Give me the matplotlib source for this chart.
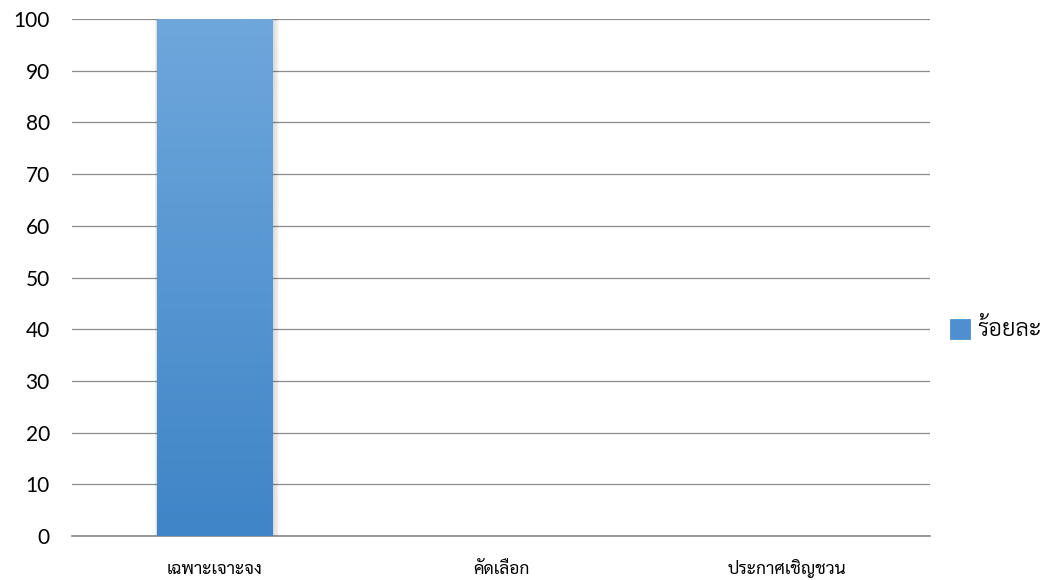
import matplotlib
matplotlib.use("Agg")
import matplotlib.pyplot as plt
import numpy as np
from matplotlib.patches import Rectangle
from matplotlib.colors import LinearSegmentedColormap

categories = ["เฉพาะเจาะจง", "คัดเลือก", "ประกาศเชิญชวน"]
values = [100, 0, 0]
series_name = "ร้อยละ"
yticks = [0, 10, 20, 30, 40, 50, 60, 70, 80, 90, 100]

fig = plt.figure(figsize=(10.49, 5.8), dpi=100)
ax = fig.add_axes([72/1049, 1-536/580, (930-72)/1049, (536-19)/580])
ax.set_xlim(-0.5, 2.5)
ax.set_ylim(0, 100)
ax.set_yticks(yticks)
ax.set_yticklabels([str(t) for t in yticks], fontsize=15, family=["Lato", "DejaVu Sans"])
ax.yaxis.grid(True, color="#8c8c8c", lw=0.9)
ax.set_axisbelow(True)
for s in ["top", "right", "left"]:
    ax.spines[s].set_visible(False)
ax.spines["bottom"].set_color("#868686")
ax.spines["bottom"].set_linewidth(1.2)
ax.tick_params(axis="y", length=0, pad=16)
ax.tick_params(axis="x", length=0, pad=27)
ax.set_xticks(range(len(categories)))
ax.set_xticklabels(categories, fontsize=12.5, family=["Sarabun", "DejaVu Sans"])
for lbl in ax.get_xticklabels():
    lbl.set_verticalalignment("baseline")

cmap = LinearSegmentedColormap.from_list("g", ["#3f85c7", "#6fa7dc"])
width = 0.405
for i, v in enumerate(values):
    if v <= 0:
        continue
    x0 = i - width/2
    # soft shadow
    for k in range(5):
        d = 0.003 * (k + 1)
        ax.add_patch(Rectangle((x0 - d*0.6, -d*25), width + 2*d, v + d*25, color="black",
                               alpha=0.03, lw=0, zorder=2))
    bar = ax.bar(i, v, width=width, color="none", zorder=3)[0]
    grad = np.linspace(0, 1, 256).reshape(-1, 1)
    im = ax.imshow(grad, cmap=cmap, extent=(x0, x0 + width, 0, v), origin="lower",
                   aspect="auto", zorder=3)
    im.set_clip_path(bar)
ax.set_xlim(-0.5, 2.5)
ax.set_ylim(0, 100)

# legend
lx, ly = 950/1049, 1-329/580
fig.patches.append(Rectangle((lx, ly - 10/580), 20/1049, 20/580, transform=fig.transFigure,
                             facecolor="#4f8fd0", edgecolor="#3f85c7", lw=0.5))
fig.text(977/1049, 1-336/580, series_name, fontsize=17, va="baseline", ha="left",
         fontweight=300, family=["Sarabun", "DejaVu Sans"])

fig.savefig("out.png", dpi=100)
